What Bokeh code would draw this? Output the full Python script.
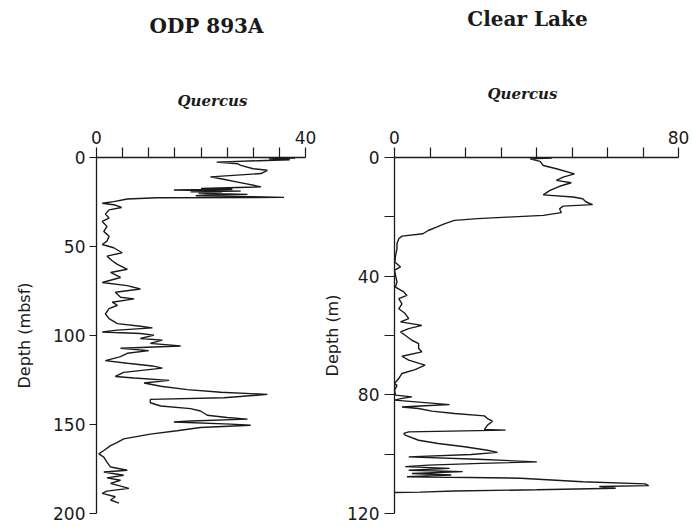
from bokeh.plotting import figure
from bokeh.layouts import row, column
from bokeh.models import Range1d, FixedTicker, Label
from bokeh.embed import file_html
from bokeh.resources import INLINE

# ---- ODP 893A (Quercus %, depth mbsf) ----
odp_depth = [0.3, 0.8, 1.3, 1.8, 2.6, 3.5, 4.4, 6.3, 7.2, 9.0, 10.9, 12.2, 13.7, 16.5,
             17.4, 17.8, 18.3, 18.9, 19.3, 19.6, 20.0, 20.7, 21.0, 21.5, 22.0, 22.4, 22.6,
             23.3, 24.8, 25.7, 26.7, 28.1, 29.4, 31.8, 34.0, 35.9, 38.7, 41.5, 44.3, 47.0,
             48.9, 50.7, 53.5, 55.4, 58.0, 60.0, 62.8, 64.6, 67.4, 70.2, 72.0, 73.9, 75.7,
             78.5, 79.4, 81.3, 83.0, 84.9, 87.8, 90.5, 93.3, 94.8, 95.7, 97.0, 98.0, 98.9,
             99.8, 101.7, 102.6, 104.4, 105.9, 107.2, 108.5, 110.0, 111.9, 114.1, 115.6,
             117.1, 118.3, 120.7, 123.0, 123.9, 125.2, 126.7, 128.5, 130.4, 131.9, 133.1,
             135.0, 135.9, 137.8, 139.6, 141.1, 142.4, 144.8, 146.1, 147.0, 148.0, 148.6,
             149.8, 150.4, 151.7, 153.5, 155.4, 158.1, 160.0, 161.9, 164.6, 166.5, 168.3,
             171.1, 173.9, 175.7, 176.7, 178.5, 180.0, 181.3, 183.1, 185.9, 187.4, 188.7,
             190.6, 192.4, 194.2]
odp_quercus = [38.0, 33.0, 37.0, 31.0, 23.0, 27.0, 27.6, 30.0, 32.7, 31.5, 21.8, 24.3, 26.8, 31.5,
               20.0, 26.0, 14.8, 27.6, 18.0, 24.0, 19.5, 28.9, 21.0, 19.0, 30.0, 35.9, 11.6,
               5.9, 3.3, 1.1, 3.6, 4.8, 2.4, 1.7, 2.4, 1.1, 2.0, 1.4, 2.4, 2.0,
               1.1, 3.3, 4.9, 2.0, 3.0, 4.0, 5.9, 2.7, 4.6, 1.1, 5.9, 8.4, 3.6,
               4.6, 7.2, 3.0, 4.0, 2.4, 1.7, 2.4, 4.0, 8.4, 10.7, 4.0, 1.1, 8.4,
               11.0, 8.4, 12.6, 10.3, 16.1, 4.6, 10.0, 5.9, 4.6, 1.7, 5.9,
               10.7, 12.6, 5.2, 3.6, 7.2, 13.9, 9.1, 12.3, 17.4, 23.8, 32.7,
               24.4, 10.3, 10.3, 12.3, 18.0, 19.9, 21.2, 25.0, 28.9, 18.0, 14.8,
               25.7, 29.5, 19.9, 15.4, 10.3, 5.2, 4.0, 2.7, 1.4, 0.45, 1.4,
               2.0, 2.7, 5.9, 1.4, 5.2, 2.0, 4.6, 2.7, 6.2, 2.0, 1.1,
               3.6, 2.7, 4.3]

# ---- Clear Lake (Quercus %, depth m) ----
cl_depth = [0.2, 0.45, 1.3, 2.7, 3.8, 5.5, 6.6, 7.7, 8.5, 9.7, 11.1, 12.6, 13.3, 13.9, 15.0,
            15.9, 16.4, 17.3, 18.6, 19.5, 20.1, 20.6, 21.2, 22.3, 23.4, 24.6, 25.7, 26.5,
            27.4, 29.0, 30.8, 33.0, 35.2, 36.9, 38.0, 39.7, 41.9, 43.7, 45.3, 46.5, 47.6,
            49.3, 51.0, 52.6, 54.3, 55.4, 56.6, 57.7, 58.8, 59.9, 61.6, 62.7, 64.4, 65.5,
            67.0, 68.3, 70.0, 71.5, 72.8, 74.5, 76.2, 76.8, 78.5, 80.1, 80.7, 81.2, 81.8,
            83.3, 83.7, 84.1, 84.6, 85.5, 86.3, 87.1, 88.0, 88.9, 90.2, 91.7, 91.9, 92.5,
            93.0, 93.6, 95.3, 96.4, 97.5, 98.7, 99.4, 100.1, 100.9, 101.7, 102.6, 103.1,
            103.7, 104.2, 104.8, 105.4, 105.9, 106.5, 107.0, 107.6, 108.1, 109.3, 110.0,
            110.6, 110.9, 111.5, 112.0, 112.4, 112.8, 112.9]
cl_quercus = [44.3, 38.2, 41.0, 41.9, 45.6, 50.7, 47.5, 45.6, 49.8, 46.5, 43.8, 41.9, 50.3, 53.0, 54.0,
              55.8, 47.5, 46.5, 47.0, 41.9, 31.7, 23.4, 16.9, 14.2, 12.0, 9.5, 8.0, 2.1,
              1.2, 0.7, 0.7, 0.3, 0.1, 1.7, 0.0, 0.3, 0.7, 0.27, 2.6, 3.5, 1.2,
              2.1, 1.2, 3.0, 4.0, 1.7, 7.7, 4.0, 1.7, 3.0, 4.9, 6.8, 6.8, 7.7,
              2.1, 4.0, 8.6, 5.8, 2.1, 1.2, 0.0, 0.7, 0.0, 0.3, 4.9, 2.1, 0.0,
              15.5, 8.6, 2.1, 6.8, 10.5, 16.9, 25.3, 26.2, 27.6, 26.2, 25.3, 31.3, 4.0,
              2.6, 3.0, 6.8, 12.3, 19.7, 26.2, 29.0, 21.6, 4.0, 23.4, 40.1, 24.3,
              9.5, 3.0, 15.5, 4.0, 19.2, 4.9, 16.0, 3.5, 35.5, 53.0, 70.6,
              71.6, 57.7, 62.3, 40.1, 16.9, 7.2, 0.0]

odp_xticks = [0, 40]
odp_xminor = [5, 10, 15, 20, 25, 30, 35]
odp_yticks = [0, 50, 100, 150, 200]
cl_xticks = [0, 80]
cl_xminor = [10, 20, 30, 40, 50, 60, 70]
cl_yticks = [0, 40, 80, 120]
cl_yminor = [20, 60, 100]

panel_titles = ["ODP 893A", "Clear Lake"]
taxon = "Quercus"

TICK_FONT = "DejaVu Sans"
INK = "#1a1a1a"
HEAD_H = 110


def style(p, ylabel):
    p.outline_line_color = None
    p.xgrid.visible = False
    p.ygrid.visible = False
    for ax in (p.xaxis[0], p.yaxis[0]):
        ax.axis_line_color = INK
        ax.axis_line_width = 1.3
        ax.major_tick_line_color = INK
        ax.minor_tick_line_color = INK
        ax.major_tick_line_width = 1.2
        ax.minor_tick_line_width = 1.2
        ax.major_tick_in = 0
        ax.minor_tick_in = 0
        ax.major_label_text_font = TICK_FONT
        ax.major_label_text_font_size = "17px"
        ax.major_label_text_color = INK
    xa = p.xaxis[0]
    xa.major_tick_out = 10
    xa.minor_tick_out = 10
    xa.major_label_standoff = 4
    ya = p.yaxis[0]
    ya.axis_label = ylabel
    ya.axis_label_text_font = TICK_FONT
    ya.axis_label_text_font_style = "normal"
    ya.axis_label_text_font_size = "16px"
    ya.axis_label_text_color = INK


# header strip holding panel titles and taxon names
head = figure(width=693, height=HEAD_H, x_range=Range1d(0, 1), y_range=Range1d(0, 1),
              x_axis_location=None, y_axis_location=None, output_backend="svg",
              toolbar_location=None, min_border=0)
head.outline_line_color = None
head.xgrid.visible = False
head.ygrid.visible = False
for title, (tx, ty), (qx, qy) in zip(panel_titles, [(206, 25), (527, 18)], [(212, 100), (522, 93)]):
    head.add_layout(Label(x=tx, y=HEAD_H - ty, x_units="screen", y_units="screen", text=title,
                          text_align="center", text_baseline="middle",
                          text_font="DejaVu Serif", text_font_style="bold",
                          text_font_size="20px", text_color=INK))
    head.add_layout(Label(x=qx, y=HEAD_H - qy, x_units="screen", y_units="screen", text=taxon,
                          text_align="center", text_baseline="middle",
                          text_font="DejaVu Serif", text_font_style="bold italic",
                          text_font_size="15px", text_color=INK))

PH = 527 - HEAD_H

p1 = figure(width=320, height=PH, x_range=Range1d(0, 40), y_range=Range1d(200, 0),
            x_axis_location="above", output_backend="svg", toolbar_location=None,
            min_border_left=96, min_border_right=15, min_border_top=157 - HEAD_H,
            min_border_bottom=10)
p1.line(odp_quercus, odp_depth, line_color=INK, line_width=1.4)
style(p1, "Depth (mbsf)")
p1.xaxis[0].ticker = FixedTicker(ticks=odp_xticks, minor_ticks=odp_xminor)
p1.yaxis[0].ticker = FixedTicker(ticks=odp_yticks)
p1.yaxis[0].major_tick_out = 7
p1.yaxis[0].major_label_standoff = 4
p1.yaxis[0].axis_label_standoff = 16

p2 = figure(width=373, height=PH, x_range=Range1d(0, 80), y_range=Range1d(120, 0),
            x_axis_location="above", output_backend="svg", toolbar_location=None,
            min_border_left=71, min_border_right=15, min_border_top=157 - HEAD_H,
            min_border_bottom=14)
p2.line(cl_quercus, cl_depth, line_color=INK, line_width=1.4)
style(p2, "Depth (m)")
p2.xaxis[0].ticker = FixedTicker(ticks=cl_xticks, minor_ticks=cl_xminor)
p2.yaxis[0].ticker = FixedTicker(ticks=cl_yticks, minor_ticks=cl_yminor)
p2.yaxis[0].major_tick_out = 10
p2.yaxis[0].minor_tick_out = 10
p2.yaxis[0].major_label_standoff = 5
p2.yaxis[0].axis_label_standoff = 2

layout = column(head, row(p1, p2))
open("out.html", "w").write(file_html(layout, INLINE))
